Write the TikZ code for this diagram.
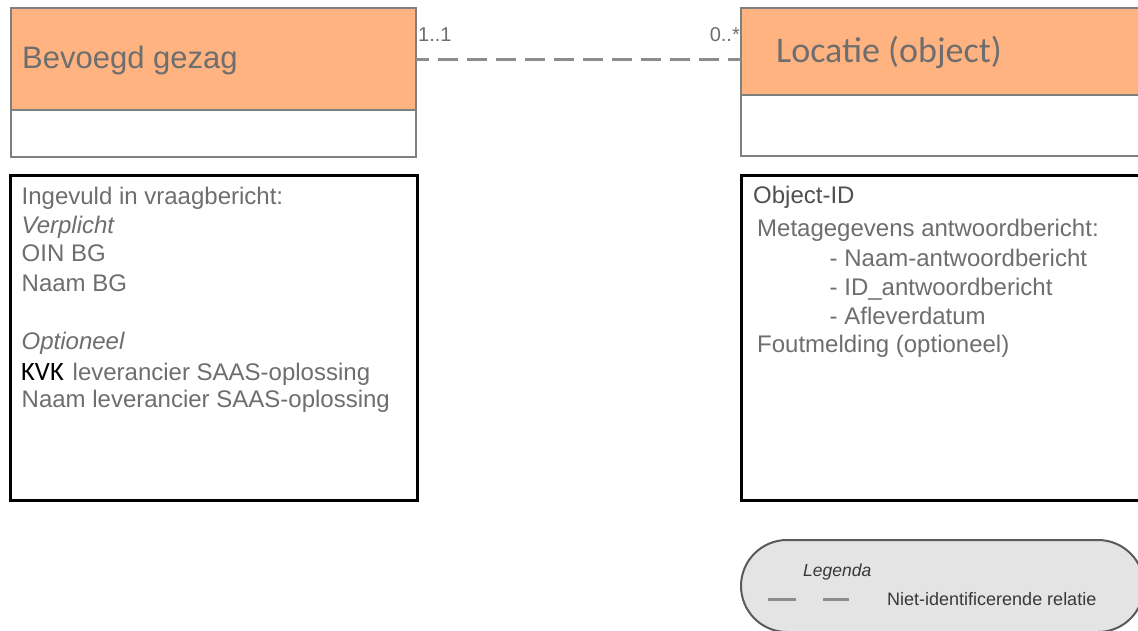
\documentclass[tikz,border=0pt]{standalone}
\usepackage{fontspec}
\setmainfont{Liberation Sans}
\newfontfamily\carlito{Carlito}
\definecolor{orangefill}{HTML}{FFB380}
\definecolor{boxgray}{HTML}{7F7F7F}
\definecolor{txtgray}{HTML}{6E6E6E}
\definecolor{darkgray}{HTML}{505050}
\definecolor{linegray}{HTML}{8C8C8C}
\definecolor{leggray}{HTML}{E4E4E4}
\definecolor{legline}{HTML}{5A5A5A}
\definecolor{legtext}{HTML}{383838}
\begin{document}
\begin{tikzpicture}[x=1pt,y=-1pt,
  classhead/.style={draw=boxgray, line width=1.5pt, fill=orangefill, anchor=north west, inner sep=0pt, outer sep=0pt},
  classbody/.style={draw=boxgray, line width=1.5pt, fill=white, anchor=north west, inner sep=0pt, outer sep=0pt},
  notebox/.style={draw=black, line width=3pt, fill=white, anchor=north west, inner sep=0pt, outer sep=0pt},
  txt/.style={anchor=base west, inner sep=0pt, text=txtgray, font=\fontsize{24}{28}\selectfont},
  multlabel/.style={inner sep=0pt, text=txtgray, font=\fontsize{20}{24}\selectfont},
  relation/.style={draw=linegray, line width=3pt, dash pattern=on 20pt off 9pt, dash phase=6.7pt},
  legendbox/.style={draw=legline, line width=2pt, fill=leggray, rounded corners=46pt, anchor=north west, inner sep=0pt, outer sep=0pt},
  legtxt/.style={anchor=base west, inner sep=0pt, text=legtext, font=\fontsize{18}{22}\selectfont}
]
\useasboundingbox (0,0) rectangle (1138,630);
\clip (0,0) rectangle (1138,630);

% class Bevoegd gezag
\node[classbody, minimum width=405pt, minimum height=47pt] (bgbody) at (11,110) {};
\node[classhead, minimum width=405pt, minimum height=102pt] (bg) at (11,8) {};
\node[anchor=base west, inner sep=0pt, text=txtgray, font=\fontsize{31}{36}\selectfont] (bgtitle) at (22,68) {Bevoegd gezag};

% class Locatie
\node[classbody, minimum width=409pt, minimum height=61pt] (locbody) at (741,95) {};
\node[classhead, minimum width=409pt, minimum height=87pt] (loc) at (741,8) {};
\node[anchor=base west, inner sep=0pt, text=txtgray, font=\carlito\fontsize{36}{42}\selectfont] (loctitle) at (776,62) {Locatie (object)};

% relation
\draw[relation] (bg.east) -- (bg.east -| loc.west);
\node[multlabel, anchor=base west] (m1) at (418,41) {1..1};
\node[multlabel, anchor=base east] (m2) at (740,41) {0..*};

% note left
\node[notebox, minimum width=407pt, minimum height=325pt] (noteL) at (10,175) {};
\node[txt] (l1) at (21.5,204) {Ingevuld in vraagbericht:};
\node[txt, font=\fontsize{24}{28}\selectfont\itshape] (l2) at (21.5,233.3) {Verplicht};
\node[txt] (l3) at (21.5,261.7) {OIN BG};
\node[txt] (l4) at (21.5,291.2) {Naam BG};
\node[txt, font=\fontsize{24}{28}\selectfont\itshape] (l5) at (21.5,349.5) {Optioneel};
\node[anchor=base west, inner sep=0pt, text=black, font=\carlito\fontsize{26.5}{30}\selectfont] (l6a) at (21,380.7) {KVK};
\node[txt] (l6b) at (72.5,380.7) {leverancier SAAS-oplossing};
\node[txt] (l7) at (21.5,407) {Naam leverancier SAAS-oplossing};

% note right
\node[notebox, minimum width=409pt, minimum height=325pt] (noteR) at (741,175) {};
\node[txt, text=darkgray] (r1) at (753,203.3) {Object-ID};
\node[txt] (r2) at (757,236.7) {Metagegevens antwoordbericht:};
\node[txt] (r3) at (829.5,266.7) {- Naam-antwoordbericht};
\node[txt] (r4) at (829.5,295.5) {- ID\_antwoordbericht};
\node[txt] (r5) at (829.5,324.3) {- Afleverdatum};
\node[txt] (r6) at (757,352.7) {Foutmelding (optioneel)};

% legend
\node[legendbox, minimum width=403pt, minimum height=92pt] (leg) at (741,540) {};
\node[legtxt, font=\fontsize{17.5}{21}\selectfont\itshape] (legt) at (803,576.5) {Legenda};
\coordinate (d1) at (768,599.5);
\coordinate (d2) at (849,599.5);
\draw[draw=linegray, line width=3pt, dash pattern=on 28pt off 27pt] (d1) -- (d2);
\node[legtxt] (legr) at (887,605) {Niet-identificerende relatie};
\end{tikzpicture}
\end{document}
